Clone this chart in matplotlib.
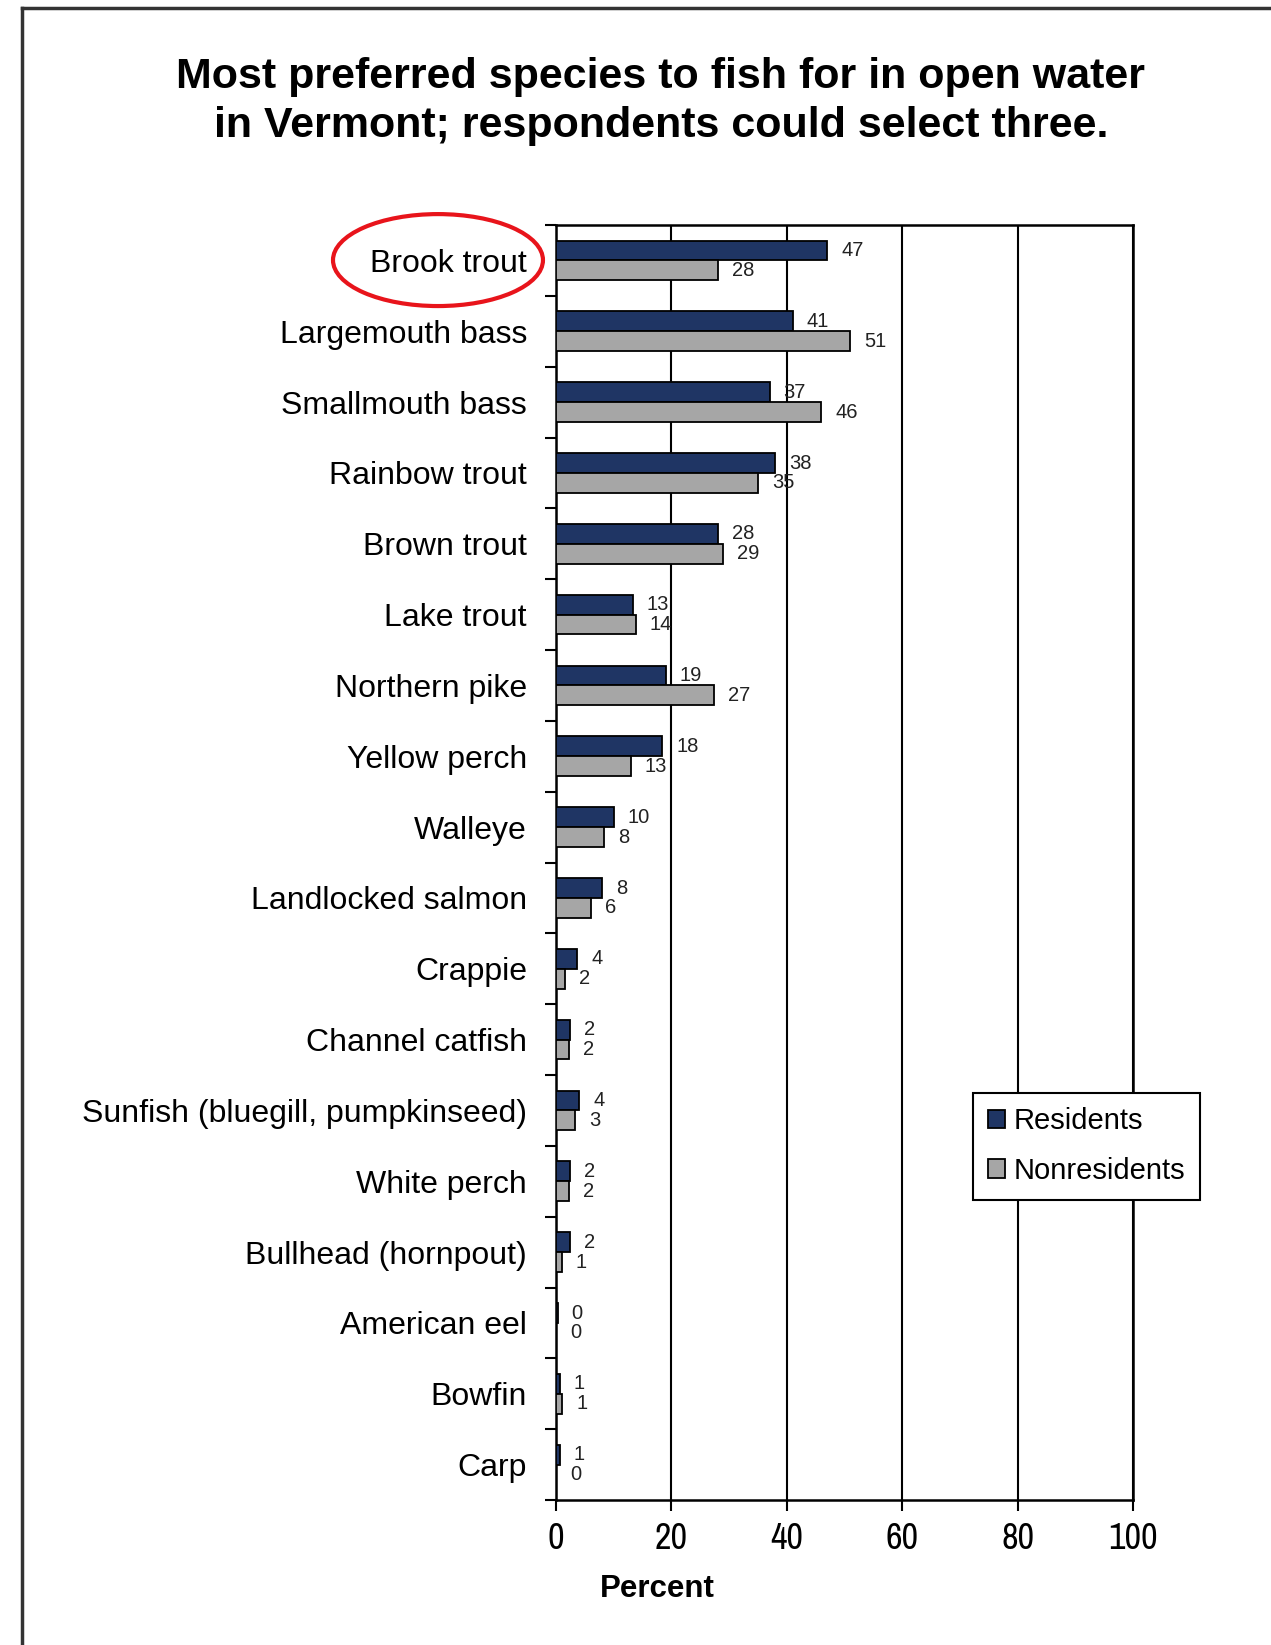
import numpy as np
import matplotlib
matplotlib.use("Agg")
import matplotlib.pyplot as plt
from matplotlib.patches import Ellipse
from matplotlib.lines import Line2D

# data (bar lengths, labels are the rounded values)
species = ["Brook trout", "Largemouth bass", "Smallmouth bass", "Rainbow trout",
           "Brown trout", "Lake trout", "Northern pike", "Yellow perch", "Walleye",
           "Landlocked salmon", "Crappie", "Channel catfish",
           "Sunfish (bluegill, pumpkinseed)", "White perch", "Bullhead (hornpout)",
           "American eel", "Bowfin", "Carp"]
residents = [47, 41, 37, 38, 28, 13.3, 19, 18.4, 10, 8, 3.7, 2.4, 4, 2.4, 2.4, 0.3, 0.6, 0.7]
nonresidents = [28, 51, 46, 35, 29, 13.8, 27.4, 13, 8.3, 6, 1.5, 2.3, 3.3, 2.3, 1, 0, 1.1, 0]
xticks = [0, 20, 40, 60, 80, 100]

navy = "#1f3564"
grey = "#a6a6a6"
sans = ["Liberation Sans", "DejaVu Sans"]
narrow = ["Archivo Narrow", "Liberation Sans", "DejaVu Sans"]

fig = plt.figure(figsize=(12.71, 16.45), dpi=100)
ax = fig.add_axes([0.4375, 0.0881, 0.4540, 0.7751])

y = np.arange(len(species))
h = 0.28
b1 = ax.barh(y - h/2, residents, height=h, color=navy, edgecolor="black", linewidth=1.3, label="Residents", zorder=3)
b2 = ax.barh(y + h/2, nonresidents, height=h, color=grey, edgecolor="black", linewidth=1.3, label="Nonresidents", zorder=3)

for bars, vals in [(b1, residents), (b2, nonresidents)]:
    for r, v in zip(bars, vals):
        ax.annotate(f"{v:.0f}", (v, r.get_y() + r.get_height()/2), xytext=(10, 0),
                    textcoords="offset points", ha="left", va="center",
                    fontsize=14.5, family=sans, color="#222222")

ax.set_xlim(0, 100)
ax.set_ylim(len(species) - 0.5, -0.5)
ax.set_xticks(xticks)
ax.set_xticklabels([str(t) for t in xticks], family=narrow, fontsize=26)
ax.tick_params(axis="x", length=8, width=1.5, direction="out", pad=8)
ax.set_yticks(y)
ax.set_yticklabels(species, family=sans, fontsize=23)
ax.tick_params(axis="y", which="major", length=0, pad=21)
ax.set_yticks(np.arange(-0.5, len(species)), minor=True)
ax.tick_params(axis="y", which="minor", length=8, width=1.5, direction="out")
ax.grid(axis="x", color="black", linewidth=1.5, zorder=0)
for s in ax.spines.values():
    s.set_linewidth(1.8)

fig.text(0.5175, 0.034, "Percent", family=sans, fontsize=22.5, fontweight="bold",
         ha="center", va="center")

fig.text(0.520, 0.9385, "Most preferred species to fish for in open water\nin Vermont; respondents could select three.",
         family=sans, fontsize=31, fontweight="bold", ha="center", va="center", linespacing=1.3)

leg = ax.legend(loc="center", bbox_to_anchor=(0.8549, 0.3033), bbox_transform=fig.transFigure,
                prop={"family": sans, "size": 21}, fancybox=False, framealpha=1,
                edgecolor="black", handlelength=0.6, handleheight=0.6, handletextpad=0.3,
                borderpad=0.5, labelspacing=0.75, borderaxespad=0)
leg.get_frame().set_linewidth(1.5)

# red circle around the first label
fig.add_artist(Ellipse((0.3446, 0.8419), 0.1652, 0.0559, transform=fig.transFigure,
                       fill=False, edgecolor="#e8141b", linewidth=3))

# outer frame (cut at right and bottom)
fig.add_artist(Line2D([0.0173, 0.0173], [0.0, 0.9951], transform=fig.transFigure, color="#333333", linewidth=2.5))
fig.add_artist(Line2D([0.0173, 1.0], [0.9951, 0.9951], transform=fig.transFigure, color="#333333", linewidth=2.5))

fig.savefig("out.png", dpi=100)
